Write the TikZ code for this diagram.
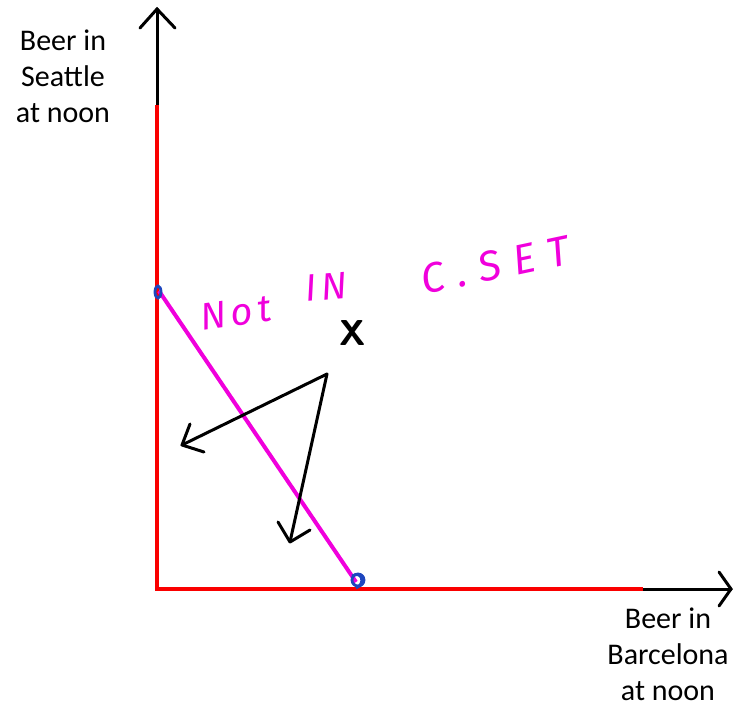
\documentclass[tikz,border=0pt]{standalone}
\usepackage{fontspec}
\setmainfont{Carlito}
\newfontfamily\handfont[LetterSpace=12]{Fira Sans}
\newfontfamily\handwide[LetterSpace=30]{Fira Sans}
\definecolor{pink}{RGB}{240,0,220}
\definecolor{redaxis}{RGB}{250,0,0}
\definecolor{penblue}{RGB}{30,70,190}
\begin{document}
\begin{tikzpicture}[x=1pt,y=-1pt,
  axis/.style={black, line width=3pt, line cap=round},
  redpart/.style={redaxis, line width=4.5pt},
  budget/.style={pink, line width=4pt},
  pen/.style={black, line width=3pt, line cap=round, line join=round},
  lbl/.style={font=\fontsize{30}{36}\selectfont, align=center, inner sep=0pt},
  hand/.style={text=pink, font=\handfont\itshape\fontsize{38}{38}\selectfont, inner sep=0pt},
  handw/.style={text=pink, font=\handwide\itshape\fontsize{42}{42}\selectfont, inner sep=0pt},
  dot/.style={draw=penblue, line width=2.8pt}]
\useasboundingbox (0,0) rectangle (733,709);
% axes
\coordinate (O) at (157,589);
\coordinate (ytip) at (157,9);
\coordinate (xtip) at (731,589);
\draw[axis] (O) -- (ytip);
\draw[axis] (140,28) -- (ytip) -- (175,28);
\draw[axis] (O) -- (xtip);
\draw[axis] (719,572) -- (xtip) -- (719,606);
\draw[redpart] (157,105) -- (O) -- (643,589);
% budget line
\coordinate (A) at (159,291);
\coordinate (B) at (356,582);
\draw[budget] (A) -- (B);
\draw[dot] (158,292) ellipse (3 and 6);
\draw[dot] (358,580) circle (6);
\draw[dot] (352,576) .. controls (362,570) and (366,584) .. (356,588);
% labels
\node[lbl] (ylab) at (63,76) {Beer in\\Seattle\\at noon};
\node[lbl] (xlab) at (668,654) {Beer in\\Barcelona\\at noon};
% X and arrows
\node[font=\fontsize{36}{36}\selectfont\bfseries\sffamily] (X) at (353,333) {X};
\coordinate (S) at (327,374);
\coordinate (T1) at (182,445);
\coordinate (T2) at (290,542);
\draw[pen] (S) -- (T1);
\draw[pen] (190,424) -- (T1) -- (204,452);
\draw[pen] (S) -- (T2);
\draw[pen] (278,522) -- (T2) -- (310,530);
% handwritten note
\node[hand, rotate=8] (n1) at (236,313) {Not};
\node[hand, rotate=5] (n2) at (326,287) {IN};
\node[handw, rotate=12] (n3) at (495,265) {C.SET};
\end{tikzpicture}
\end{document}
